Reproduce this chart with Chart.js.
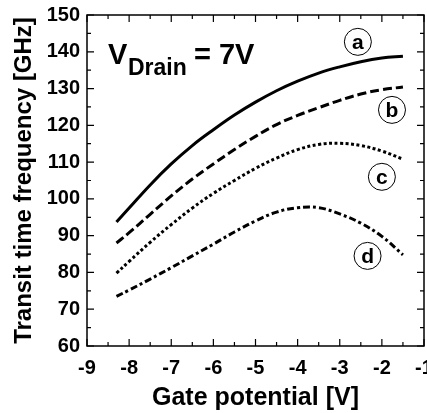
<!DOCTYPE html>
<html lang="en">
<head>
    <meta charset="UTF-8">
    <title>Transit time frequency vs gate potential</title>
    <script src="https://cdn.jsdelivr.net/npm/chart.js"></script>
    <style>
        html, body { margin: 0; padding: 0; background: #fff; }
        #wrap { width: 427px; height: 413px; }
    </style>
</head>
<body>
    <div id="wrap"><canvas id="chart" width="427" height="413"></canvas></div>
    <script>
        // gate potential samples [V]
        const gateV = [-8.3, -8, -7.5, -7, -6.5, -6, -5.5, -5, -4.5, -4, -3.5, -3, -2.5, -2, -1.5];
        // transit time frequency [GHz] for each curve
        const curveA = [93.7, 97.5, 103.8, 109.5, 114.5, 118.8, 122.8, 126.3, 129.4, 132.0, 134.2, 135.9, 137.3, 138.3, 138.8];
        const curveB = [88.0, 90.8, 95.8, 100.8, 105.4, 109.5, 113.4, 117.0, 120.2, 122.7, 124.8, 126.8, 128.5, 129.7, 130.4];
        const curveC = [79.8, 83.0, 88.2, 93.0, 97.5, 101.5, 105.0, 108.3, 111.1, 113.4, 114.8, 115.1, 114.5, 113.0, 110.8];
        const curveD = [73.5, 75.2, 78.2, 81.3, 84.5, 87.7, 91.0, 94.0, 96.4, 97.6, 97.6, 95.9, 93.4, 89.8, 84.8];
        const curveNames = ['a', 'b', 'c', 'd'];
        // where the circled letters sit (x, y in data units)
        const labelX = [-2.57, -1.76, -2.0, -2.34];
        const labelY = [142.7, 124.2, 106.0, 84.5];
        const xTicks = [-9, -8, -7, -6, -5, -4, -3, -2, -1];
        const yTicks = [60, 70, 80, 90, 100, 110, 120, 130, 140, 150];

        const toPts = vals => vals.map((v, i) => ({ x: gateV[i], y: v }));
        const font = 'Liberation Sans, Arial, Helvetica, sans-serif';

        // inward ticks on all four sides plus the box
        const frameTicks = {
            id: 'frameTicks',
            afterDraw(chart) {
                const { ctx, chartArea: a, scales: { x, y } } = chart;
                ctx.save();
                ctx.strokeStyle = '#000';
                ctx.lineWidth = 1.5;
                ctx.strokeRect(a.left, a.top, a.right - a.left, a.bottom - a.top);
                ctx.lineWidth = 1.2;
                ctx.beginPath();
                for (let v = -9; v <= -1; v += 0.5) {
                    const px = x.getPixelForValue(v);
                    const len = Number.isInteger(v) ? 7 : 4;
                    ctx.moveTo(px, a.bottom); ctx.lineTo(px, a.bottom - len);
                    ctx.moveTo(px, a.top); ctx.lineTo(px, a.top + len);
                }
                for (let v = 60; v <= 150; v += 5) {
                    const py = y.getPixelForValue(v);
                    const len = v % 10 === 0 ? 7 : 4;
                    ctx.moveTo(a.left, py); ctx.lineTo(a.left + len, py);
                    ctx.moveTo(a.right, py); ctx.lineTo(a.right - len, py);
                }
                ctx.stroke();

                // circled curve names
                ctx.fillStyle = '#000';
                ctx.textAlign = 'center';
                ctx.textBaseline = 'middle';
                curveNames.forEach((n, i) => {
                    const cx = x.getPixelForValue(labelX[i]);
                    const cy = y.getPixelForValue(labelY[i]);
                    ctx.lineWidth = 1;
                    ctx.beginPath();
                    ctx.arc(cx, cy, 13.5, 0, Math.PI * 2);
                    ctx.stroke();
                    ctx.font = 'bold 21px ' + font;
                    ctx.fillText(n, cx, cy + 1);
                });

                // V_Drain = 7V
                ctx.textAlign = 'left';
                ctx.textBaseline = 'alphabetic';
                ctx.font = 'bold 29px ' + font;
                ctx.fillText('V', 108, 64);
                ctx.font = 'bold 23px ' + font;
                ctx.fillText('Drain', 128, 75);
                ctx.font = 'bold 29px ' + font;
                ctx.fillText('= 7V', 194, 64);
                ctx.restore();
            }
        };

        const lineStyle = (label, vals, dash) => ({
            label: label,
            data: toPts(vals),
            borderColor: '#000',
            borderWidth: 3,
            borderDash: dash,
            borderCapStyle: 'butt',
            pointRadius: 0,
            fill: false,
            tension: 0.4
        });

        new Chart(document.getElementById('chart'), {
            type: 'line',
            data: {
                datasets: [
                    lineStyle('a', curveA, []),
                    lineStyle('b', curveB, [9, 4]),
                    lineStyle('c', curveC, [3, 2.5]),
                    lineStyle('d', curveD, [7, 3, 3, 3])
                ]
            },
            options: {
                responsive: false,
                animation: false,
                layout: { padding: { top: 15, right: 3, left: 0, bottom: 0 } },
                plugins: { legend: { display: false }, tooltip: { enabled: false } },
                scales: {
                    x: {
                        type: 'linear',
                        min: -9, max: -1,
                        afterBuildTicks: s => { s.ticks = xTicks.map(v => ({ value: v })); },
                        afterFit: s => { s.height = 67; s.paddingLeft = 0; s.paddingRight = 0; },
                        grid: { display: false, drawTicks: false },
                        border: { display: false },
                        ticks: {
                            color: '#000', padding: 10, maxRotation: 0,
                            font: { family: font, size: 20, weight: 'bold' }
                        },
                        title: {
                            display: true, text: 'Gate potential [V]', color: '#000',
                            padding: { top: 0, bottom: 0 },
                            font: { family: font, size: 25, weight: 'bold' }
                        }
                    },
                    y: {
                        min: 60, max: 150,
                        afterBuildTicks: s => { s.ticks = yTicks.map(v => ({ value: v })); },
                        afterFit: s => { s.width = 87; s.paddingTop = 0; s.paddingBottom = 0; },
                        grid: { display: false, drawTicks: false },
                        border: { display: false },
                        ticks: {
                            color: '#000', padding: 7,
                            font: { family: font, size: 20, weight: 'bold' }
                        },
                        title: {
                            display: true, text: 'Transit time frequency [GHz]', color: '#000',
                            padding: { top: 10, bottom: 0 },
                            font: { family: font, size: 24, weight: 'bold' }
                        }
                    }
                }
            },
            plugins: [frameTicks]
        });
    </script>
</body>
</html>
